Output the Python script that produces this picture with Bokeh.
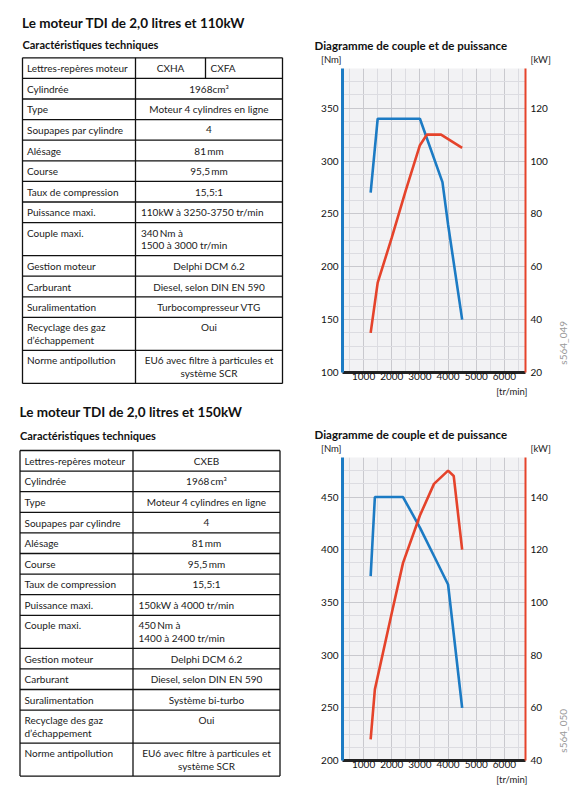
from bokeh.plotting import figure
from bokeh.models import Range1d, LinearAxis, FixedTicker
from bokeh.layouts import row, column
from bokeh.embed import file_html
from bokeh.resources import INLINE
from bokeh.core.properties import value

# ---------------- data ----------------
rpm_ticks = [1000, 2000, 3000, 4000, 5000, 6000]
rpm_minor = [500, 1500, 2500, 3500, 4500, 5500, 6500]

# Engine 1 : 110 kW
e1_torque_rpm = [1250, 1500, 3000, 3800, 4000, 4500]
e1_torque_nm = [270, 340, 340, 280, 240, 150]
e1_power_rpm = [1250, 1500, 2000, 2500, 3000, 3250, 3750, 4500]
e1_power_kw = [35, 54, 71, 89, 106, 110, 110, 105]
e1_nm_ticks = [100, 150, 200, 250, 300, 350]
e1_kw_ticks = [20, 40, 60, 80, 100, 120]

# Engine 2 : 150 kW
e2_torque_rpm = [1250, 1400, 2400, 3000, 3500, 4000, 4500]
e2_torque_nm = [375, 450, 450, 421, 394, 367, 250]
e2_power_rpm = [1250, 1400, 2000, 2400, 3000, 3500, 4000, 4200, 4500]
e2_power_kw = [48, 67, 96, 115, 133, 145, 150, 148, 120]
e2_nm_ticks = [200, 250, 300, 350, 400, 450]
e2_kw_ticks = [40, 60, 80, 100, 120, 140]

t_labels = ["Lettres-repères moteur", "Cylindrée", "Type", "Soupapes par cylindre",
            "Alésage", "Course", "Taux de compression", "Puissance maxi.",
            "Couple maxi.", "Gestion moteur", "Carburant", "Suralimentation",
            "Recyclage des gaz\nd’échappement", "Norme antipollution"]
t1_values = ["CXHA|CXFA", "1968cm³", "Moteur 4 cylindres en ligne", "4", "81\u2009mm",
             "95,5\u2009mm", "15,5:1", "110kW à 3250-3750 tr/min",
             "340\u2009Nm à\n1500 à 3000 tr/min", "Delphi DCM 6.2",
             "Diesel, selon DIN EN 590", "Turbocompresseur VTG", "Oui",
             "EU6 avec filtre à particules et\nsystème SCR"]
t2_values = ["CXEB", "1968\u2009cm³", "Moteur 4 cylindres en ligne", "4", "81\u2009mm",
             "95,5\u2009mm", "15,5:1", "150kW à 4000 tr/min",
             "450\u2009Nm à\n1400 à 2400 tr/min", "Delphi DCM 6.2",
             "Diesel, selon DIN EN 590", "Système bi-turbo", "Oui",
             "EU6 avec filtre à particules et\nsystème SCR"]
left_aligned_rows = [7, 8]

titles = ["Le moteur TDI de 2,0 litres et 110kW", "Le moteur TDI de 2,0 litres et 150kW"]
subtitle = "Caractéristiques techniques"
chart_title = "Diagramme de couple et de puissance"
ref_ids = ["s564_049", "s564_050"]

FONT = "Lato"
BLUE = "#1c7bc4"
RED = "#e5432b"
PAGE_W, PAGE_H = 584, 806
SPLIT_X = 300


def text_fig(w, h):
    f = figure(width=w, height=h, x_range=Range1d(0, w), y_range=Range1d(h, 0),
               min_border=0, x_axis_location=None, y_axis_location=None,
               outline_line_color=None, toolbar_location=None, output_backend="svg",
               background_fill_color="white", border_fill_color="white")
    for g in f.grid:
        g.visible = False
    return f


# ---------------- left figure: tables ----------------
left = text_fig(SPLIT_X, PAGE_H)


def draw_table(p, title, values, L, D, R, top, title_y, sub_y, sub_div):
    p.text(x=[L - 0.5], y=[title_y], text=[title], text_font=value(FONT),
           text_font_style="bold", text_font_size="13.5px", text_baseline="middle",
           text_color="#111111")
    p.text(x=[L], y=[sub_y], text=[subtitle], text_font=value(FONT),
           text_font_style="bold", text_font_size="11px", text_baseline="middle",
           text_color="#111111")
    ys = [top]
    for lab, val in zip(t_labels, values):
        two = ("\n" in lab) or ("\n" in val)
        ys.append(ys[-1] + (33.0 if two else 20.6))
    xs0, ys0, xs1, ys1 = [], [], [], []
    for y in ys:
        xs0.append(L); xs1.append(R); ys0.append(y); ys1.append(y)
    for x in (L, D, R):
        xs0.append(x); xs1.append(x); ys0.append(ys[0]); ys1.append(ys[-1])
    if sub_div is not None:
        xs0.append(sub_div); xs1.append(sub_div); ys0.append(ys[0]); ys1.append(ys[1])
    p.segment(x0=xs0, y0=ys0, x1=xs1, y1=ys1, line_color="#111111", line_width=1.3)

    tx, ty, tt, ta = [], [], [], []
    for i, (lab, val) in enumerate(zip(t_labels, values)):
        y0, y1 = ys[i], ys[i + 1]
        two = (y1 - y0) > 25

        def place(lines, x, align):
            if two:
                for k, ln in enumerate(lines):
                    tx.append(x); ty.append(y0 + 10 + 12.5 * k); tt.append(ln); ta.append(align)
            else:
                tx.append(x); ty.append((y0 + y1) / 2); tt.append(lines[0]); ta.append(align)

        place(lab.split("\n"), L + 4.5, "left")
        if "|" in val:
            a, b = val.split("|")
            place([a], (D + sub_div) / 2, "center")
            place([b], sub_div + 5, "left")
        elif i in left_aligned_rows:
            place(val.split("\n"), D + 5.5, "left")
        else:
            place(val.split("\n"), (D + R) / 2, "center")
    p.text(x=tx, y=ty, text=tt, text_align=ta, text_baseline="middle",
           text_font=value(FONT), text_font_size="10px", text_color="#1a1a1a")


draw_table(left, titles[0], t1_values, 22, 135, 282, 57.3, 22, 44, 205)
draw_table(left, titles[1], t2_values, 19.5, 132.5, 279.5, 450, 411.7, 435, None)

# ---------------- charts ----------------
CORE_W = 254
SIDE_W = PAGE_W - SPLIT_X - CORE_W
FRAME_L, FRAME_R = 342, 525


def make_chart(y0, frame_top, frame_bottom, y1, y_lo, y_hi, kw_lo, kw_hi,
               nm_ticks, kw_ticks, t_rpm, t_nm, p_rpm, p_kw, ref_id):
    bottom_border = 13
    core_bottom = frame_bottom + bottom_border

    # header with chart title and unit labels
    head = text_fig(PAGE_W - SPLIT_X, frame_top - y0)
    hh = frame_top - y0
    head.text(x=[314 - SPLIT_X], y=[hh - 23.3], text=[chart_title], text_font=value(FONT),
              text_font_style="bold", text_font_size="11.5px", text_baseline="middle",
              text_color="#111111")
    head.text(x=[320.5 - SPLIT_X, 530 - SPLIT_X], y=[hh - 9, hh - 9], text=["[Nm]", "[kW]"],
              text_font=value(FONT), text_font_size="9.5px", text_baseline="middle",
              text_color="#222222")

    # core chart
    c = figure(width=CORE_W, height=core_bottom - frame_top,
               x_range=Range1d(250, 6750), y_range=Range1d(y_lo, y_hi),
               output_backend="svg", toolbar_location=None,
               min_border_left=FRAME_L - SPLIT_X,
               min_border_right=SPLIT_X + CORE_W - FRAME_R,
               min_border_top=0, min_border_bottom=bottom_border,
               background_fill_color="#f2f2f4", border_fill_color="white",
               outline_line_color=None)
    c.extra_y_ranges = {"kw": Range1d(kw_lo, kw_hi)}

    step = (nm_ticks[1] - nm_ticks[0]) / 4
    minor_y = []
    v = y_lo
    while v <= y_hi + 1e-6:
        if all(abs(v - t) > 1e-6 for t in nm_ticks):
            minor_y.append(v)
        v += step

    xa = c.xaxis[0]
    xa.ticker = FixedTicker(ticks=rpm_ticks, minor_ticks=rpm_minor)
    ya = c.yaxis[0]
    ya.ticker = FixedTicker(ticks=nm_ticks, minor_ticks=minor_y)
    for ax, col, lw in ((xa, "#222222", 3), (ya, BLUE, 3)):
        ax.axis_line_color = col
        ax.axis_line_width = lw
        ax.major_tick_line_color = None
        ax.minor_tick_line_color = None
        ax.major_tick_out = 0
        ax.major_tick_in = 0
        ax.minor_tick_out = 0
        ax.minor_tick_in = 0
        ax.major_label_text_font = FONT
        ax.major_label_text_font_size = "10px"
        ax.major_label_text_color = "#111111"
    xa.major_label_standoff = 0
    ya.major_label_standoff = 4

    ra = LinearAxis(y_range_name="kw", ticker=FixedTicker(ticks=kw_ticks),
                    axis_line_color=RED, axis_line_width=2,
                    major_tick_line_color=None, minor_tick_line_color=None,
                    major_tick_out=0, major_tick_in=0, minor_tick_out=0, minor_tick_in=0,
                    major_label_text_font=FONT, major_label_text_font_size="10px",
                    major_label_text_color="#111111", major_label_standoff=5)
    c.add_layout(ra, "right")

    c.xgrid.grid_line_color = "#c9c9ce"
    c.ygrid.grid_line_color = "#c9c9ce"
    c.xgrid.minor_grid_line_color = "#dcdce1"
    c.ygrid.minor_grid_line_color = "#dcdce1"

    c.line(t_rpm, t_nm, line_color=BLUE, line_width=2.6)
    c.line(p_rpm, p_kw, line_color=RED, line_width=2.6, y_range_name="kw")

    # side strip with the reference code
    side = text_fig(SIDE_W, core_bottom - frame_top)
    side.text(x=[562.5 - SPLIT_X - CORE_W], y=[frame_bottom - 18 - frame_top], text=[ref_id],
              angle=1.5708, text_font=value(FONT), text_font_size="10px",
              text_align="center", text_baseline="middle", text_color="#9a9a9a")

    # footer with the rpm unit
    foot = text_fig(PAGE_W - SPLIT_X, y1 - core_bottom)
    foot.text(x=[527 - SPLIT_X], y=[frame_bottom + 18.5 - core_bottom], text=["[tr/min]"],
              text_font=value(FONT), text_font_size="9.5px", text_align="right",
              text_baseline="middle", text_color="#222222")

    return [head, row(c, side), foot]


parts1 = make_chart(0, 68, 372, 400, 100, 387.5, 20, 135, e1_nm_ticks, e1_kw_ticks,
                    e1_torque_rpm, e1_torque_nm, e1_power_rpm, e1_power_kw, ref_ids[0])
parts2 = make_chart(400, 457, 760, PAGE_H, 200, 487.5, 40, 155, e2_nm_ticks, e2_kw_ticks,
                    e2_torque_rpm, e2_torque_nm, e2_power_rpm, e2_power_kw, ref_ids[1])

layout = row(left, column(*parts1, *parts2))
open("out.html", "w").write(file_html(layout, INLINE))
